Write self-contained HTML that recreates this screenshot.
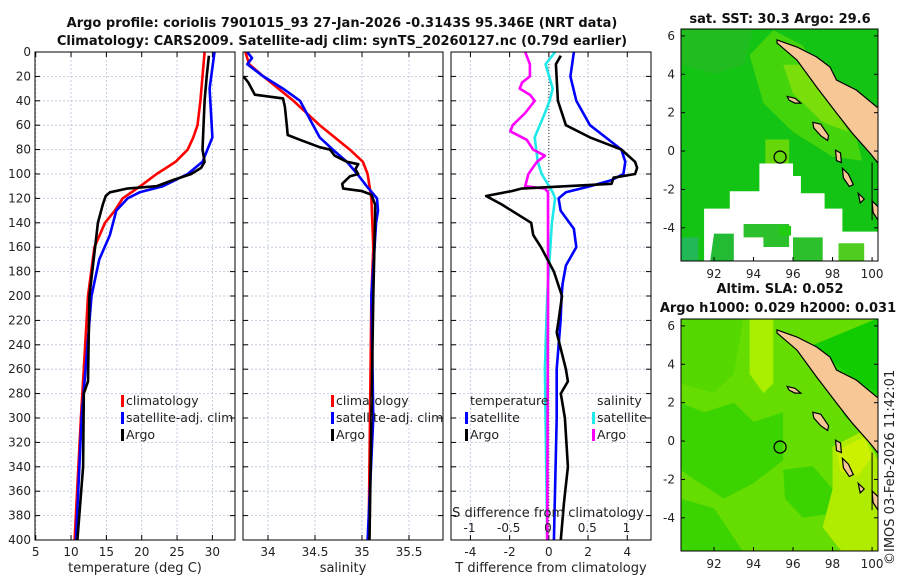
<!DOCTYPE html>
<html><head><meta charset="utf-8">
<style>
body{margin:0;background:#fff;}
svg{display:block;font-family:"DejaVu Sans","Liberation Sans",sans-serif;}
.tk{font-size:12px;fill:#222;}
.ttl{font-size:13px;font-weight:bold;fill:#111;}
.lab{font-size:13px;fill:#222;}
.leg{font-size:12.5px;fill:#222;}
</style></head>
<body>
<svg id="chart" width="900" height="580" viewBox="0 0 900 580" xmlns="http://www.w3.org/2000/svg">
<text class="ttl" x="342" y="27" text-anchor="middle">Argo profile: coriolis 7901015_93 27-Jan-2026 -0.3143S 95.346E (NRT data)</text>
<text class="ttl" x="342" y="45" text-anchor="middle">Climatology: CARS2009. Satellite-adj clim: synTS_20260127.nc (0.79d earlier)</text>
<g id="g1"></g><g id="g2"></g><g id="g3"></g><g id="maps"></g>
<text class="lab" x="0" y="0" transform="translate(894,565) rotate(-90)">©IMOS 03-Feb-2026 11:42:01</text>
</svg>
<script>
// ---- data ----
const depthTicks=[0,20,40,60,80,100,120,140,160,180,200,220,240,260,280,300,320,340,360,380,400];
const tempTicks=[5,10,15,20,25,30];
const salTicks=[34,34.5,35,35.5];
const tdiffTicks=[-4,-2,0,2,4];
const sdiffTicks=[-1,-0.5,0,0.5,1];
const lonTicks=[92,94,96,98,100];
const latTicks=[-4,-2,0,2,4,6];

const climTdep=[0,20,40,60,70,80,90,100,110,120,130,140,160,200,260,300,400];
const climT=[28.9,28.6,28.3,27.9,27.3,26.5,24.8,22.1,19.8,17.3,16.2,14.8,13.3,12.4,11.8,11.4,10.5];
const satTdep=[0,30,70,80,90,100,110,115,120,130,150,170,200,300,400];
const satT=[30.3,29.6,30.0,29.3,28.6,26.5,23.0,19.7,18.0,16.4,15.5,14.0,12.9,11.5,10.7];
const argoTdep=[3,20,40,80,90,95,100,105,110,112,115,118,125,140,160,200,270,280,340,400];
const argoT=[29.5,29.2,28.9,28.6,28.9,28.4,27.0,24.4,22.1,17.9,15.5,14.9,14.5,13.8,13.4,12.6,12.4,11.8,11.7,10.9];

const climSdep=[0,10,20,40,60,80,90,100,120,160,200,400];
const climS=[33.76,33.8,33.95,34.27,34.55,34.87,35.01,35.06,35.1,35.12,35.1,35.07];
const satSdep=[0,5,10,20,30,40,60,70,80,90,100,110,120,130,140,200,300,400];
const satS=[33.78,33.83,33.78,33.95,34.16,34.34,34.48,34.55,34.69,34.84,34.95,35.05,35.16,35.17,35.15,35.1,35.12,35.06];
const argoSdep=[20,25,35,38,45,60,68,72,78,80,85,90,92,96,100,102,108,112,114,117,125,135,200,400];
const argoS=[33.74,33.79,33.86,34.16,34.18,34.2,34.21,34.34,34.55,34.66,34.71,34.84,34.96,34.93,34.96,34.87,34.79,34.8,35.0,35.1,35.14,35.14,35.12,35.08];

const dTargoDep=[3,10,40,60,70,80,90,95,100,103,108,112,114,118,125,140,150,160,180,200,220,230,260,270,280,300,340,370,400];
const dTargo=[0.61,0.36,0.46,0.87,2.1,3.7,4.4,4.5,4.4,3.3,3.2,-1.4,-1.9,-3.2,-2.4,-0.9,-0.8,-0.4,0.26,0.67,0.5,0.4,0.87,0.97,0.61,0.82,0.97,0.77,0.61];
const dTsatDep=[0,20,40,60,70,80,90,100,105,110,115,120,130,145,160,175,190,200,220,260,300,400];
const dTsat=[1.28,1.1,1.4,2.1,2.9,3.7,3.9,3.8,3.2,2.1,0.87,0.5,0.6,1.28,1.4,0.87,0.7,0.65,0.6,0.4,0.4,0.26];
const dSsatDep=[0,10,30,40,50,70,90,100,115,120,140,200,260,400];
const dSsat=[0.09,-0.03,0.06,0.02,-0.04,-0.17,-0.13,-0.08,0.06,0.09,0.05,-0.01,-0.04,-0.01];
const dSargoDep=[0,10,20,25,30,35,40,50,60,65,72,80,85,90,100,110,112,115,200,400];
const dSargo=[-0.29,-0.23,-0.23,-0.33,-0.36,-0.23,-0.17,-0.29,-0.45,-0.48,-0.27,-0.19,-0.04,-0.14,-0.25,-0.29,-0.04,0,0,-0.01];

const floatLon=95.346, floatLat=-0.3143;

// ---- helpers ----
const NS="http://www.w3.org/2000/svg";
function mk(tag,attrs,parent){const e=document.createElementNS(NS,tag);for(const k in attrs)e.setAttribute(k,attrs[k]);parent.appendChild(e);return e;}
const Y0=52,Y1=540;
const yD=d=>Y0+(d/400)*(Y1-Y0);

function panel(g,x0,x1,xmin,xmax,ticks,showY,name){
  const sx=v=>x0+(v-xmin)/(xmax-xmin)*(x1-x0);
  const r=mk('rect',{x:x0,y:Y0,width:x1-x0,height:Y1-Y0,fill:'#fff',stroke:'none'},g);
  
  
  ticks.forEach(t=>{
    const gl=mk('line',{x1:sx(t),x2:sx(t),y1:Y0,y2:Y1,stroke:'#b8c0dc','stroke-width':0.8,'stroke-dasharray':'2,2'},g);
    
    
    mk('line',{x1:sx(t),x2:sx(t),y1:Y1,y2:Y1-5,stroke:'#000'},g);
    mk('line',{x1:sx(t),x2:sx(t),y1:Y0,y2:Y0+5,stroke:'#000'},g);
  });
  depthTicks.forEach(d=>{
    const gl=mk('line',{x1:x0,x2:x1,y1:yD(d),y2:yD(d),stroke:'#b8c0dc','stroke-width':0.8,'stroke-dasharray':'2,2'},g);
    
    
    mk('line',{x1:x0,x2:x0+5,y1:yD(d),y2:yD(d),stroke:'#000'},g);
    mk('line',{x1:x1,x2:x1-5,y1:yD(d),y2:yD(d),stroke:'#000'},g);
    if(showY){const t=mk('text',{x:x0-4,y:yD(d)+4,'text-anchor':'end',class:'tk'},g);t.textContent=d;
      }
  });
  return sx;
}
function frame(g,x0,x1){mk('rect',{x:x0,y:Y0,width:x1-x0,height:Y1-Y0,fill:'none',stroke:'#000','stroke-width':1},g);}
function xLabels(g,sx,ticks,y,name){ticks.forEach(t=>{const e=mk('text',{x:sx(t),y:y,'text-anchor':'middle',class:'tk'},g);e.textContent=t;
  });}
function line(g,sx,deps,vals,color,name){
  const pts=deps.map((d,i)=>sx(vals[i]).toFixed(1)+','+yD(d).toFixed(1)).join(' ');
  const p=mk('polyline',{points:pts,fill:'none',stroke:color,'stroke-width':2.6,'stroke-linejoin':'round'},g);
  
  
}
function legend(g,x,y,items,name){
  items.forEach((it,i)=>{
    if(it[1]){const b=mk('rect',{x:x,y:y+i*17-10,width:3,height:12,fill:it[1]},g);
      }
    const t=mk('text',{x:x+5,y:y+i*17,class:'leg'},g);t.textContent=it[0];
    
  });
}

// ---- panel 1: temperature ----
const g1=document.getElementById('g1');
const sT=panel(g1,35,235,4.9,33.2,tempTicks,true,'temperature');
line(g1,sT,climTdep,climT,'#f00','clim-temp-line');
line(g1,sT,satTdep,satT,'#00f','sat-temp-line');
line(g1,sT,argoTdep,argoT,'#000','argo-temp-line');
frame(g1,35,235);
xLabels(g1,sT,tempTicks,556,'temp-tick-label');
let t=mk('text',{x:135,y:572,'text-anchor':'middle',class:'lab'},g1);t.textContent='temperature (deg C)';

legend(g1,121,405,[['climatology','#f00'],['satellite-adj. clim','#00f'],['Argo','#000']],'temp-legend');

// ---- panel 2: salinity ----
const g2=document.getElementById('g2');
const sS=panel(g2,243,443,33.734,35.862,salTicks,false,'salinity');
line(g2,sS,climSdep,climS,'#f00','clim-salinity-line');
line(g2,sS,satSdep,satS,'#00f','sat-salinity-line');
line(g2,sS,argoSdep,argoS,'#000','argo-salinity-line');
frame(g2,243,443);
xLabels(g2,sS,salTicks,556,'salinity-tick-label');
t=mk('text',{x:343,y:572,'text-anchor':'middle',class:'lab'},g2);t.textContent='salinity';

legend(g2,331,405,[['climatology','#f00'],['satellite-adj. clim','#00f'],['Argo','#000']],'salinity-legend');

// ---- panel 3: differences ----
const g3=document.getElementById('g3');
const sDT=panel(g3,451,651,-4.99,5.21,tdiffTicks,false,'difference');
const sDS=v=>548+v*78.5;
const z=mk('line',{x1:sDT(0),x2:sDT(0),y1:Y0,y2:Y1,stroke:'#333','stroke-width':1,'stroke-dasharray':'1,2'},g3);

line(g3,sDS,dSsatDep,dSsat,'#1ee8e8','sat-salinity-diff-line');
line(g3,sDS,dSargoDep,dSargo,'#f0f','argo-salinity-diff-line');
line(g3,sDT,dTsatDep,dTsat,'#00f','sat-temp-diff-line');
line(g3,sDT,dTargoDep,dTargo,'#000','argo-temp-diff-line');
frame(g3,451,651);
xLabels(g3,sDT,tdiffTicks,556,'tdiff-tick-label');
xLabels(g3,sDS,sdiffTicks,532,'sdiff-tick-label');
t=mk('text',{x:548,y:517,'text-anchor':'middle',class:'lab'},g3);t.textContent='S difference from climatology';

t=mk('text',{x:551,y:572,'text-anchor':'middle',class:'lab'},g3);t.textContent='T difference from climatology';

legend(g3,465,405,[['temperature',null],['satellite','#00f'],['Argo','#000']],'tdiff-legend');
legend(g3,592,405,[['salinity',null],['satellite','#1ee8e8'],['Argo','#f0f']],'sdiff-legend');

// ---- maps ----
const gm=document.getElementById('maps');
const MX0=681,MX1=878;
const lonMin=90.33,lonMax=100.3;
const mx=l=>MX0+(l-lonMin)/(lonMax-lonMin)*(MX1-MX0);
const sumatra=[[95.19,5.79],[96.2,5.42],[97.2,4.9],[97.87,4.38],[98.2,3.7],[99.2,3.18],[100.25,2.29],[100.5,2.29],[100.5,-0.63],[100.3,-0.63],[99.9,-0.11],[99.0,0.93],[98.2,1.98],[97.2,3.33],[96.2,4.74],[95.19,5.63]];
const islands=[
 [[95.7,2.85],[96.1,2.75],[96.4,2.5],[96.1,2.5],[95.8,2.65]],
 [[97.0,1.5],[97.4,1.4],[97.8,0.8],[97.75,0.55],[97.4,0.8],[97.05,1.2]],
 [[98.5,-0.9],[98.8,-1.2],[99.05,-1.75],[98.85,-1.85],[98.55,-1.4]],
 [[98.15,0.05],[98.4,-0.1],[98.45,-0.6],[98.2,-0.5]],
 [[99.3,-2.2],[99.6,-2.5],[99.4,-2.7]],
 [[100.0,-2.6],[100.3,-2.9],[100.3,-3.6],[100.05,-3.2]]
];
function drawMap(top,bot,latTop,latBot,base,patches,name,title1,title2){
  const my=la=>top+(latTop-la)/(latTop-latBot)*(bot-top);
  const P=a=>a.map(p=>mx(p[0]).toFixed(1)+','+my(p[1]).toFixed(1)).join(' ');
  const cid='clip'+name;
  const cp=mk('clipPath',{id:cid},gm);mk('rect',{x:MX0,y:top,width:MX1-MX0,height:bot-top},cp);
  const g=mk('g',{'clip-path':'url(#'+cid+')'},gm);
  const bg=mk('rect',{x:MX0,y:top,width:MX1-MX0,height:bot-top,fill:base},g);
  
  patches.forEach(p=>mk('polygon',{points:P(p[0]),fill:p[1]},g));
  const land=mk('polygon',{points:P(sumatra),fill:'#f7c896',stroke:'#000','stroke-width':1.2},g);
  
  islands.forEach(is=>mk('polygon',{points:P(is),fill:'#f7c896',stroke:'#000','stroke-width':1.2},g));
  mk('line',{x1:mx(100),x2:mx(100),y1:my(-0.6),y2:my(-3.6),stroke:'#000','stroke-width':1},g);
  const c=mk('circle',{cx:mx(floatLon),cy:my(floatLat),r:6,fill:'none',stroke:'#000','stroke-width':1.3},g);
  
  mk('rect',{x:MX0,y:top,width:MX1-MX0,height:bot-top,fill:'none',stroke:'#000'},gm);
  lonTicks.forEach(l=>{mk('line',{x1:mx(l),x2:mx(l),y1:bot,y2:bot-4,stroke:'#000'},gm);
    const e=mk('text',{x:mx(l),y:bot+17,'text-anchor':'middle',class:'tk'},gm);e.textContent=l;
    });
  latTicks.forEach(la=>{mk('line',{x1:MX0,x2:MX0+4,y1:my(la),y2:my(la),stroke:'#000'},gm);
    mk('line',{x1:MX1,x2:MX1-4,y1:my(la),y2:my(la),stroke:'#000'},gm);
    const e=mk('text',{x:MX0-6,y:my(la)+4,'text-anchor':'end',class:'tk'},gm);e.textContent=la;
    });
  const t1=mk('text',{x:780,y:top-(title2?26:6),'text-anchor':'middle',class:'ttl'},gm);t1.textContent=title1;
  
  if(title2){const t2=mk('text',{x:778,y:top-7,'text-anchor':'middle',class:'ttl'},gm);t2.textContent=title2;
    }
}
drawMap(29,261,6.36,-5.73,'#14c414',[
 [[[90.3,6.4],[94,6.4],[93.5,4.5],[92,4],[90.3,4.5]],'#20bc20'],
 [[[93.8,5],[95,6.3],[96.5,5.5],[97.5,3.5],[99,1.5],[99.5,-0.5],[98,-0.3],[96,1],[94.5,2.5]],'#44d40c'],
 [[[95.5,4.5],[96.5,4.5],[98,2.5],[98.8,1],[97.5,1.5],[96,3]],'#7ade0a'],
 [[[94.6,0.6],[95.8,0.6],[95.8,-0.8],[94.6,-0.8]],'#66d80a'],
 [[[94.3,-0.65],[96.0,-0.65],[96.0,-1.3],[96.4,-1.3],[96.4,-2.2],[97.6,-2.2],[97.6,-3.0],[98.5,-3.0],[98.5,-4.2],[100.3,-4.2],[100.3,-5.8],[91.5,-5.8],[91.5,-3.0],[92.8,-3.0],[92.8,-2.1],[94.3,-2.1]],'#ffffff'],
 [[[93.5,-3.8],[95.8,-3.8],[95.8,-5.0],[94.5,-5.0],[94.5,-4.5],[93.5,-4.5]],'#2cc02c'],
 [[[92.0,-4.3],[93.0,-4.3],[93.0,-5.8],[91.8,-5.8]],'#22bb33'],
 [[[90.3,-4.5],[91.2,-4.5],[91.2,-5.8],[90.3,-5.8]],'#22b855'],
 [[[96.0,-4.5],[97.5,-4.5],[97.5,-5.8],[96.0,-5.8]],'#2cc02c'],
 [[[98.3,-4.8],[99.6,-4.8],[99.6,-5.8],[98.3,-5.8]],'#50cc20'],
 [[[95.3,-3.9],[95.9,-3.9],[95.9,-4.4],[95.3,-4.4]],'#22cc11']
],'sst','sat. SST: 30.3 Argo: 29.6',null);
drawMap(319,551,6.36,-5.73,'#66dd00',[
 [[[90.3,6.4],[93.5,6.4],[93.0,3.5],[92.0,2.5],[90.3,3]],'#55d800'],
 [[[93.8,6.4],[95.0,6.4],[95.0,3],[94.5,2.5],[93.8,3.5]],'#aaee00'],
 [[[90.3,2],[91.5,1.5],[93,2],[94,1],[95.5,1.5],[95.5,-1],[94,-2.2],[92.5,-3],[91,-2],[90.3,-1.5]],'#3cd400'],
 [[[90.3,-3],[92,-3.5],[93.5,-5.8],[90.3,-5.8]],'#3cd400'],
 [[[95.5,-1.5],[97,-1.3],[98,-2.5],[97.8,-3.8],[96.5,-4],[95.6,-3]],'#3cd400'],
 [[[98,-0.3],[99.5,0.5],[100.3,-1],[100.3,-5.8],[98.5,-5.8],[97.5,-4.5],[98,-2.5]],'#b0ec00'],
 [[[98.2,-0.5],[99.6,0.2],[100,-0.8],[99.3,-1.8],[98.4,-1.6]],'#ccf000'],
 [[[97.2,4.2],[98,4.5],[100.3,2.7],[100.3,0],[99.5,0.5],[98.6,1.3]],'#22d400'],
 [[[97,5],[100.3,6.4],[100.3,2.5],[99,3.3]],'#10cc00']
],'sla','Altim. SLA: 0.052','Argo h1000: 0.029 h2000: 0.031');
</script>
</body></html>
